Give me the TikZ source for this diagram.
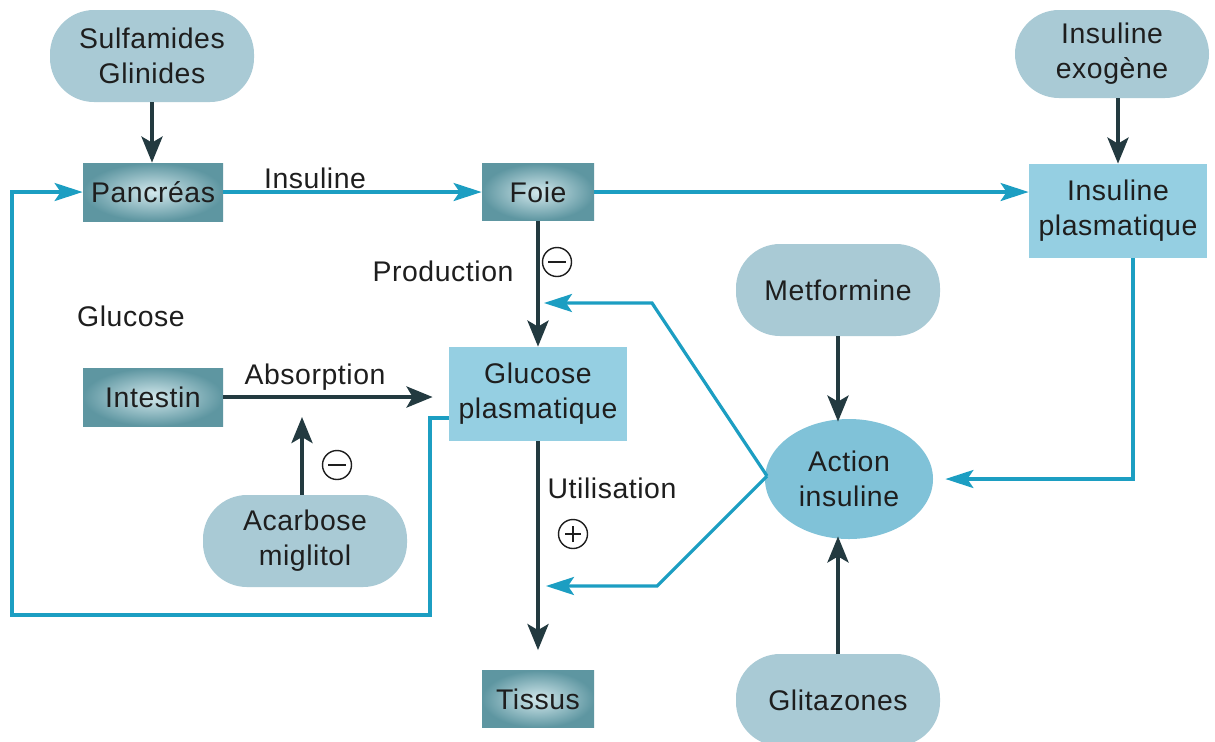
\documentclass[tikz,border=0pt]{standalone}
\usepackage{fontspec}
\setmainfont{Liberation Sans}[LetterSpace=2]
\usetikzlibrary{arrows.meta,calc,shapes.geometric}
\definecolor{pillfill}{HTML}{A9CAD5}
\definecolor{lightbox}{HTML}{95CFE2}
\definecolor{actfill}{HTML}{80C2D8}
\definecolor{darkedge}{HTML}{5E96A1}
\definecolor{darkcore}{HTML}{D2E8EC}
\definecolor{cyanline}{HTML}{1C9EC2}
\definecolor{darkline}{HTML}{233A40}
\definecolor{txt}{HTML}{1E1E1E}
\tikzset{
  every node/.style={font=\fontsize{14.2}{17.5}\selectfont, text=txt},
  pill/.style={rectangle, rounded corners=22pt, fill=pillfill, align=center,
    minimum width=102pt, minimum height=46pt, inner sep=0pt},
  organ/.style={rectangle, shading=radial, inner color=darkcore, outer color=darkedge,
    minimum width=70pt, minimum height=29pt, inner sep=0pt},
  organsm/.style={organ, minimum width=56pt, minimum height=28.5pt},
  plasma/.style={rectangle, fill=lightbox, align=center,
    minimum width=89pt, minimum height=47pt, inner sep=0pt},
  darkarrow/.style={draw=darkline, line width=2pt,
    -{Stealth[length=13pt, width=10.5pt, inset=3pt]}},
  cyanarrow/.style={draw=cyanline, line width=1.6pt,
    -{Stealth[length=14pt, width=9pt, inset=3pt]}},
  signmark/.style={circle, draw=txt, line width=0.7pt, minimum size=14.5pt,
    inner sep=0pt},
  signbar/.style={draw=txt, line width=0.7pt},
  lbl/.style={inner sep=0pt}
}
\begin{document}
\begin{tikzpicture}[x=0.5pt, y=-0.5pt]
  \fill[white] (0,0) rectangle (1215,741);
  \useasboundingbox (0,0) rectangle (1215,741);

  % drugs
  \node[pill] (sulf) at (152,56) {Sulfamides\\Glinides};
  \node[pill, minimum width=97pt, minimum height=44pt] (exo) at (1112,54) {Insuline\\exogène};
  \node[pill] (metf) at (838,290) {Metformine};
  \node[pill] (acar) at (305,541) {Acarbose\\miglitol};
  \node[pill] (glit) at (838,700) {Glitazones};

  % organs
  \node[organ] (panc) at (153,192) {Pancréas};
  \node[organsm] (foie) at (538,192) {Foie};
  \node[organ] (inte) at (153,397) {Intestin};
  \node[organsm] (tiss) at (538,699) {Tissus};

  % plasma compartments
  \node[plasma] (gp) at (538,394) {Glucose\\plasmatique};
  \node[plasma] (ip) at (1118,211) {Insuline\\plasmatique};

  % insulin action
  \node[ellipse, fill=actfill, minimum width=84pt, minimum height=60pt,
        inner sep=0pt, align=center] (act) at (849,479) {Action\\insuline};

  % free labels
  \node[lbl] (linsu) at (315,178) {Insuline};
  \node[lbl] (lprod) at (443,271) {Production};
  \node[lbl] (lgluc) at (131,316) {Glucose};
  \node[lbl] (labs) at (315,377) {Absorption};
  \node[lbl] (lutil) at (612,488) {Utilisation};

  % inhibition / stimulation marks
  \node[signmark] (s1) at (557,262) {};
  \node[signmark] (s2) at (337,465) {};
  \node[signmark] (s3) at (573,534) {};
  \draw[signbar] ([xshift=-4.5pt]s1.center) -- ([xshift=4.5pt]s1.center);
  \draw[signbar] ([xshift=-4.5pt]s2.center) -- ([xshift=4.5pt]s2.center);
  \draw[signbar] ([xshift=-4pt]s3.center) -- ([xshift=4pt]s3.center)
                 ([yshift=-4pt]s3.center) -- ([yshift=4pt]s3.center);

  % helper points
  \coordinate (absmid) at (302,399);
  \coordinate (k1) at (652,303);
  \coordinate (t1) at (544,303);
  \coordinate (k2) at (657,586);
  \coordinate (t2) at (546,586);
  \coordinate (aw) at (767,476);
  \coordinate (lp1) at (430,418);
  \coordinate (lp2) at (430,615);
  \coordinate (lp3) at (12,615);
  \coordinate (lp4) at (12,192);

  % drug actions
  \draw[darkarrow] (sulf.south) -- (sulf.south |- panc.north);
  \draw[darkarrow] (exo.south -| ip.north) -- (ip.north);
  \draw[darkarrow] (metf.south) -- ($(metf.south |- act.north)+(0,3)$);
  \draw[darkarrow] (glit.north) -- ($(glit.north |- act.south)+(0,-3)$);
  \draw[darkarrow, shorten >=9pt] (acar.north -| absmid) -- (absmid);

  % glucose fluxes
  \draw[darkarrow] (foie.south) -- (gp.north);
  \draw[darkarrow, shorten >=8pt] (inte.east) -- (inte.east -| gp.west);
  \draw[darkarrow, shorten >=10pt] (gp.south) -- (tiss.north);

  % insulin pathway
  \draw[cyanarrow] (panc.east) -- (foie.west);
  \draw[cyanarrow] (foie.east) -- (foie.east -| ip.west);
  \draw[cyanarrow, shorten >=6pt] ([xshift=7.5pt]ip.south) |- (act.east);
  \draw[cyanarrow] (aw) -- (k1) -- (t1);
  \draw[cyanarrow] (aw) -- (k2) -- (t2);

  % glucose feedback on the pancreas
  \draw[cyanarrow] (gp.west |- lp1) -- (lp1) -- (lp2) -- (lp3) -- (lp4) -- (panc.west);
\end{tikzpicture}
\end{document}
